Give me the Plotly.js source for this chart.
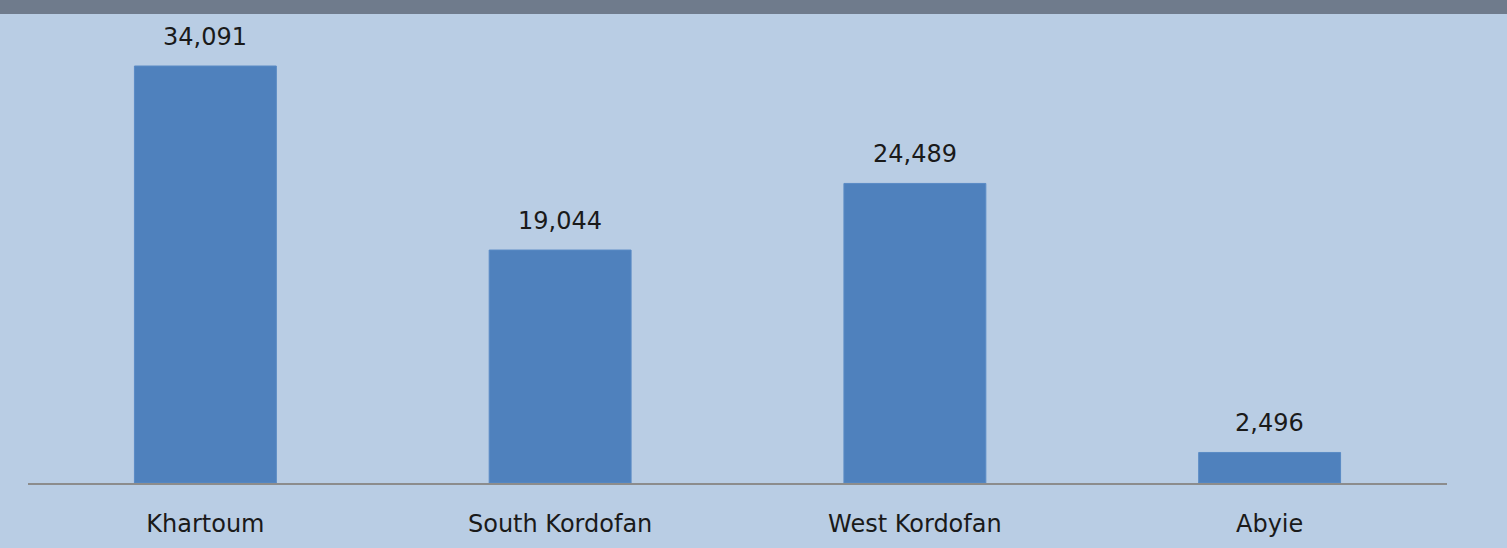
<!DOCTYPE html>
<html>
<head>
<meta charset="utf-8">
<script src="https://cdn.plot.ly/plotly-3.0.1.min.js"></script>
<style>
  html, body { margin: 0; padding: 0; background: #b9cde4; overflow: hidden; }
  #band { width: 1507px; height: 14px; background: #6f7b8c; }
  #chart { width: 1507px; height: 534px; }
</style>
</head>
<body>
<div id="band"></div>
<div id="chart"></div>
<script>
const categories = ["Khartoum", "South Kordofan", "West Kordofan", "Abyie"];
const values = [34091, 19044, 24489, 2496];
const valueLabels = ["34,091", "19,044", "24,489", "2,496"];

const FONT = "DejaVu Sans, Verdana, sans-serif";

const trace = {
  type: "bar",
  x: categories,
  y: values,
  marker: { color: "#4f81bd", line: { color: "#5a8bc5", width: 1 } },
  width: 0.4,
  hoverinfo: "skip"
};

const annotations = categories.map((c, i) => ({
  x: c, y: values[i], xref: "x", yref: "y",
  text: valueLabels[i], showarrow: false,
  yanchor: "bottom", yshift: 13,
  font: { family: FONT, size: 24, color: "#1a1a1a" }
}));

const layout = {
  width: 1507, height: 534,
  margin: { l: 28, r: 60, t: 0, b: 65 },
  paper_bgcolor: "#b9cde4",
  plot_bgcolor: "#b9cde4",
  showlegend: false,
  xaxis: {
    type: "category",
    range: [-0.5, 3.5],
    showline: true, linecolor: "#8c8c8c", linewidth: 2,
    ticks: "", showgrid: false, zeroline: false,
    ticklabelstandoff: 18,
    tickfont: { family: FONT, size: 24, color: "#1a1a1a" }
  },
  yaxis: {
    range: [0, 38342],
    showgrid: false, zeroline: false, showline: false,
    showticklabels: false, ticks: ""
  },
  annotations: annotations
};

Plotly.newPlot("chart", [trace], layout, { displayModeBar: false, staticPlot: true });
</script>
</body>
</html>
